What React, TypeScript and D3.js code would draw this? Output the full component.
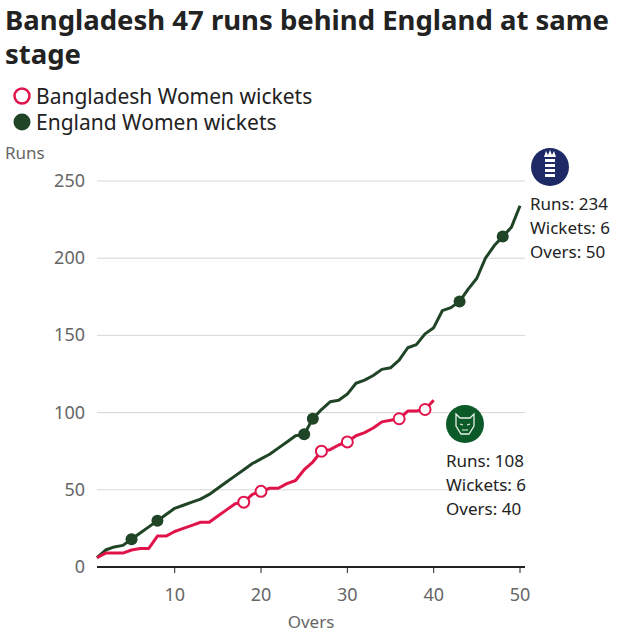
import React from 'react';
import * as d3 from 'd3';

// Over-by-over cumulative runs
const engRuns = [6, 11, 13, 14, 18, 22, 26, 30, 34, 38, 40, 42, 44, 47, 51, 55, 59, 63, 67, 70,
  73, 77, 81, 85, 86, 96, 102, 107, 108, 112, 119, 121, 124, 128, 129, 134, 142, 144, 151, 155,
  166, 168, 172, 180, 187, 200, 208, 214, 220, 234];
const banRuns = [6, 9, 9, 9, 11, 12, 12, 20, 20, 23, 25, 27, 29, 29, 33, 37, 41, 42, 47, 49,
  51, 51, 54, 56, 63, 68, 75, 76, 79, 81, 85, 87, 90, 94, 95, 96, 101, 101, 102, 108];
const engWicketOvers = [5, 8, 25, 26, 43, 48];
const banWicketOvers = [18, 20, 27, 30, 36, 39];
const yTicks = [0, 50, 100, 150, 200, 250];
const xTicks = [10, 20, 30, 40, 50];

const RED = '#e0144b';
const GREEN = '#1f4426';
const FONT = '"Noto Sans", "Open Sans", sans-serif';

const App: React.FC = () => {
  const x = d3.scaleLinear().domain([1, 50]).range([97, 520]);
  const y = d3.scaleLinear().domain([0, 250]).range([567, 181]);

  const line = d3.line<number>()
    .x((_, i) => x(i + 1))
    .y((d) => y(d))
    .curve(d3.curveLinear);

  return (
    <svg width={640} height={640} style={{ position: 'absolute', left: 0, top: 0, fontFamily: FONT }}>
      <rect width={640} height={640} fill="#fff" />
      <text x={5} y={30} fontSize={27.5} fontWeight={700} fill="#222">Bangladesh 47 runs behind England at same</text>
      <text x={5} y={64} fontSize={27.5} fontWeight={700} fill="#222">stage</text>

      <circle cx={22} cy={96} r={7.5} fill="#fff" stroke={RED} strokeWidth={2.5} />
      <text x={36} y={104} fontSize={21} fill="#222">Bangladesh Women wickets</text>
      <circle cx={22} cy={122} r={8.5} fill={GREEN} />
      <text x={36} y={130} fontSize={21} fill="#222">England Women wickets</text>

      <text x={5} y={159} fontSize={17} fill="#666">Runs</text>

      {yTicks.map((t) => (
        <g key={t}>
          {t > 0 && <line x1={97} x2={525} y1={y(t)} y2={y(t)} stroke="#d6d6d6" strokeWidth={1} />}
          <text x={85} y={y(t) + 6} fontSize={18} fill="#666" textAnchor="end">{t}</text>
        </g>
      ))}

      <line x1={97} x2={525} y1={y(0)} y2={y(0)} stroke="#222" strokeWidth={2} />
      {xTicks.map((t) => (
        <g key={t}>
          <line x1={x(t)} x2={x(t)} y1={y(0)} y2={y(0) + 6} stroke="#222" strokeWidth={1} />
          <text x={x(t)} y={601} fontSize={18} fill="#666" textAnchor="middle">{t}</text>
        </g>
      ))}
      <text x={311} y={628} fontSize={17} fill="#666" textAnchor="middle">Overs</text>

      <path d={line(engRuns) || ''} fill="none" stroke={GREEN} strokeWidth={3} strokeLinejoin="round" />
      <path d={line(banRuns) || ''} fill="none" stroke={RED} strokeWidth={3} strokeLinejoin="round" />

      {engWicketOvers.map((o) => (
        <circle key={'e' + o} cx={x(o)} cy={y(engRuns[o - 1])} r={6} fill={GREEN} />
      ))}
      {banWicketOvers.map((o) => (
        <circle key={'b' + o} cx={x(o)} cy={y(banRuns[o - 1])} r={5.5} fill="#fff" stroke={RED} strokeWidth={2} />
      ))}

      {/* England badge */}
      <circle cx={550} cy={167} r={19} fill="#1e2a66" />
      <g fill="#fff">
        <path d="M544,157 L546,151 L548,155 L550,150 L552,155 L554,151 L556,157 Z" />
        <rect x={545} y={159} width={10} height={3} />
        <rect x={545} y={164} width={10} height={3} />
        <rect x={545} y={169} width={10} height={3} />
        <rect x={545} y={174} width={10} height={3} />
      </g>
      <text x={530} y={210} fontSize={17} fill="#222">Runs: {engRuns[engRuns.length - 1]}</text>
      <text x={530} y={234} fontSize={17} fill="#222">Wickets: {engWicketOvers.length}</text>
      <text x={530} y={258} fontSize={17} fill="#222">Overs: {engRuns.length}</text>

      {/* Bangladesh badge */}
      <circle cx={465} cy={424} r={19} fill="#0b5a28" />
      <path d="M456,414 L460,418 L470,418 L474,414 L474,426 L469,434 L461,434 L456,426 Z" fill="none" stroke="#e8f0e8" strokeWidth={1.3} />
      <path d="M460,424 L463,425 M467,425 L470,424 M462,430 L468,430" stroke="#e8f0e8" strokeWidth={1.2} />
      <text x={446} y={467} fontSize={17} fill="#222">Runs: {banRuns[banRuns.length - 1]}</text>
      <text x={446} y={491} fontSize={17} fill="#222">Wickets: {banWicketOvers.length}</text>
      <text x={446} y={515} fontSize={17} fill="#222">Overs: {banRuns.length}</text>
    </svg>
  );
};

export default App;
